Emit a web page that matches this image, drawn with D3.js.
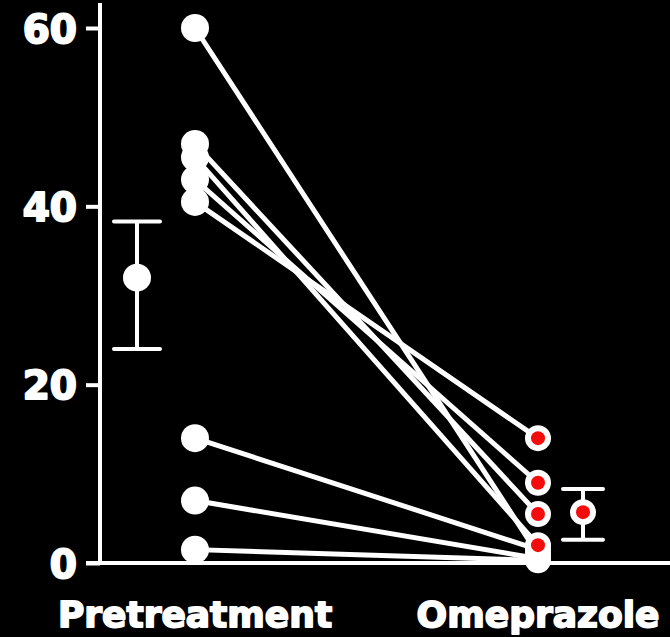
<!DOCTYPE html>
<html>
<head>
<meta charset="utf-8">
<script src="https://cdn.jsdelivr.net/npm/d3@7/dist/d3.min.js"></script>
<style>
  html, body { margin: 0; padding: 0; background: #000; }
  svg { display: block; }
</style>
</head>
<body>
<svg id="chart" width="670" height="637"></svg>
<script>
// Paired measurements per subject, before and during omeprazole
const groups = ["Pretreatment", "Omeprazole"];
const pretreatment = [60, 47, 45.5, 43, 40.5, 14, 7, 1.5];
const omeprazole   = [1, 5.5, 2, 9, 14, 1.5, 0.5, 0.3];

// Group summaries: mean with lower / upper error limits
const meanValues  = [32, 5.7];
const errLower    = [24, 2.6];
const errUpper    = [38.3, 8.3];

const yTicks = [0, 20, 40, 60];

const svg = d3.select("#chart");
const W = 670, H = 637;

const y = d3.scaleLinear().domain([0, 60]).range([563, 28]);
const x = d3.scalePoint().domain(groups).range([195, 538]);
const meanOffset = [-58, 45];

const font = "'DejaVu Sans', 'Liberation Sans', sans-serif";

// Axes
const yAxis = d3.axisLeft(y).tickValues(yTicks).tickSize(14).tickPadding(9).tickFormat(d3.format("d"));
const gy = svg.append("g").attr("transform", "translate(100,0)").call(yAxis);
gy.select(".domain").remove();
gy.selectAll(".tick line").attr("stroke", "#fff").attr("stroke-width", 4);
gy.selectAll(".tick text")
  .attr("fill", "#fff")
  .attr("stroke", "#fff")
  .attr("stroke-width", 2)
  .attr("stroke-linejoin", "round")
  .attr("font-family", font)
  .attr("font-weight", "bold")
  .attr("font-size", 39)
  .attr("dy", "0.36em");

svg.append("line")
  .attr("x1", 100).attr("x2", 100)
  .attr("y1", 3).attr("y2", y(0) + 2)
  .attr("stroke", "#fff").attr("stroke-width", 4);
svg.append("line")
  .attr("x1", 86).attr("x2", W)
  .attr("y1", y(0)).attr("y2", y(0))
  .attr("stroke", "#fff").attr("stroke-width", 4);

// Group labels
svg.append("g").selectAll("text")
  .data(groups)
  .join("text")
  .attr("x", d => x(d))
  .attr("y", 627)
  .attr("text-anchor", "middle")
  .attr("fill", "#fff")
  .attr("stroke", "#fff")
  .attr("stroke-width", 1.8)
  .attr("stroke-linejoin", "round")
  .attr("font-family", font)
  .attr("font-weight", "bold")
  .attr("font-size", 36)
  .text(d => d);

// Subject lines
const pairs = pretreatment.map((v, i) => [v, omeprazole[i]]);
svg.append("g").selectAll("line")
  .data(pairs)
  .join("line")
  .attr("x1", x(groups[0])).attr("y1", d => y(d[0]))
  .attr("x2", x(groups[1])).attr("y2", d => y(d[1]))
  .attr("stroke", "#fff")
  .attr("stroke-width", 5)
  .attr("stroke-linecap", "round");

// Pretreatment points
svg.append("g").selectAll("circle")
  .data(pretreatment)
  .join("circle")
  .attr("cx", x(groups[0]))
  .attr("cy", d => y(d))
  .attr("r", 14)
  .attr("fill", "#fff");

// Omeprazole points: white ring, red centre; higher values drawn on top
const og = svg.append("g");
og.selectAll("g")
  .data(omeprazole.slice().sort(d3.ascending))
  .join("g")
  .attr("transform", d => `translate(${x(groups[1])},${y(d)})`)
  .each(function() {
    const g = d3.select(this);
    g.append("circle").attr("r", 13).attr("fill", "#fff");
    g.append("circle").attr("r", 7).attr("fill", "#f40c0c");
  });

// Mean and error bars
groups.forEach((g, i) => {
  const cx = x(g) + meanOffset[i];
  const capW = i === 0 ? 23 : 20;
  const eb = svg.append("g");
  eb.append("line")
    .attr("x1", cx).attr("x2", cx)
    .attr("y1", y(errUpper[i])).attr("y2", y(errLower[i]))
    .attr("stroke", "#fff").attr("stroke-width", 4);
  [errUpper[i], errLower[i]].forEach(v => {
    eb.append("line")
      .attr("x1", cx - capW).attr("x2", cx + capW)
      .attr("y1", y(v)).attr("y2", y(v))
      .attr("stroke", "#fff").attr("stroke-width", 4)
      .attr("stroke-linecap", "round");
  });
  eb.append("circle")
    .attr("cx", cx).attr("cy", y(meanValues[i]))
    .attr("r", i === 0 ? 14 : 13)
    .attr("fill", "#fff");
  if (i === 1) {
    eb.append("circle")
      .attr("cx", cx).attr("cy", y(meanValues[i]))
      .attr("r", 7)
      .attr("fill", "#f40c0c");
  }
});
</script>
</body>
</html>
